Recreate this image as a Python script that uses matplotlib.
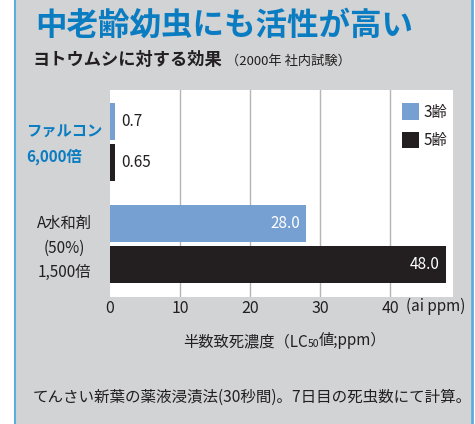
import matplotlib.pyplot as plt
from matplotlib.patches import Rectangle
from matplotlib.lines import Line2D
import numpy as np

plt.rcParams['font.family'] = ['Noto Sans CJK JP', 'DejaVu Sans']

# === Data ===
groups = ["ファルコン\n6,000倍", "A水和剤\n(50%)\n1,500倍"]
instar3 = [0.7, 28.0]
instar5 = [0.65, 48.0]
series_labels = ["3齢", "5齢"]
xticks = [0, 10, 20, 30, 40]

c3 = "#769fd2"
c5 = "#231f20"
bg = "#d1d3d4"
blue = "#0a7cc1"
edge_blue = "#5aaedb"
txt = "#231f20"

W, H = 475, 424
fig = plt.figure(figsize=(W / 100, H / 100), dpi=100)
fig.patch.set_facecolor("white")

def fx(px):
    return px / W

def fy(py):
    return 1 - py / H

# grey panel with blue side rules
fig.add_artist(Rectangle((fx(15), 0), fx(471) - fx(15), 1, transform=fig.transFigure,
                         facecolor=bg, edgecolor="none", zorder=0))
fig.add_artist(Line2D([fx(15), fx(15)], [0, 1], transform=fig.transFigure, color=edge_blue, lw=1.5))
fig.add_artist(Line2D([fx(472), fx(472)], [0, 1], transform=fig.transFigure, color=edge_blue, lw=2))

# === Plot ===
ax = fig.add_axes([fx(110), fy(297), fx(453) - fx(110), fy(90) - fy(297)])
ax.set_facecolor("white")
y = np.arange(len(groups))
h = 0.363
off = 0.2
b3 = ax.barh(y - off, instar3, height=h, color=c3, label=series_labels[0], zorder=3)
b5 = ax.barh(y + off, instar5, height=h, color=c5, label=series_labels[1], zorder=3)
ax.set_xlim(0, 49)
ax.set_ylim(1.52, -0.51)
ax.set_xticks(xticks)
ax.set_xticklabels([str(t) for t in xticks], fontsize=11.5, color=txt)
ax.tick_params(axis="x", length=0, pad=2)
ax.set_yticks([])
for s in ax.spines.values():
    s.set_visible(False)
for t in xticks[1:]:
    ax.axvline(t, color="#b5b5b5", lw=1, zorder=1)

# value labels
for ys, vals in ((y - off, instar3), (y + off, instar5)):
    for yi, v in zip(ys, vals):
        if v < 5:
            ax.text(v + 0.9, yi, f"{v:g}", va="center", ha="left", fontsize=11, color=txt)
        else:
            ax.text(v - 0.9, yi, f"{v:.1f}", va="center", ha="right", fontsize=11, color="white")

# group labels
fig.text(fx(26), fy(144), groups[0], ha="left", va="center", fontsize=11, fontweight="bold",
         color=blue, linespacing=1.8)
fig.text(fx(64), fy(248), groups[1], ha="center", va="center", fontsize=11, color=txt,
         linespacing=1.55)

ax.legend(handles=[b3, b5], loc="upper left", bbox_to_anchor=(0.851, 0.935), frameon=False,
          fontsize=11, handlelength=1.1, handleheight=1.3, handletextpad=0.3,
          labelspacing=0.7, borderpad=0, borderaxespad=0, labelcolor=txt)

# unit after last tick
fig.text(fx(406), fy(306), "(ai ppm)", ha="left", va="center", fontsize=11, color=txt)

# x label with smaller "50"
t1 = fig.text(fx(183), fy(342), "半数致死濃度（LC", ha="left", va="center", fontsize=11, color=txt)
a2 = ax.annotate("50", xy=(1, 0.08), xycoords=t1, ha="left", va="bottom", fontsize=7.5,
                 color=txt, annotation_clip=False)
ax.annotate("値;ppm）", xy=(1, 0), xycoords=a2, ha="left", va="bottom", fontsize=11,
            color=txt, annotation_clip=False)

# titles
fig.text(fx(35), fy(26), "中老齢幼虫にも活性が高い", ha="left", va="center", fontsize=22.7,
         fontweight="bold", color=blue)
fig.text(fx(33), fy(60), "ヨトウムシに対する効果", ha="left", va="center", fontsize=12.4,
         fontweight="bold", color=txt)
fig.text(fx(226), fy(61), "（2000年 社内試験）", ha="left", va="center", fontsize=9.5, color=txt)

# footnote
fig.text(fx(33), fy(397), "てんさい新葉の薬液浸漬法(30秒間)。7日目の死虫数にて計算。",
         ha="left", va="center", fontsize=11.2, color=txt)

fig.savefig("out.png", dpi=100, facecolor=fig.get_facecolor())
